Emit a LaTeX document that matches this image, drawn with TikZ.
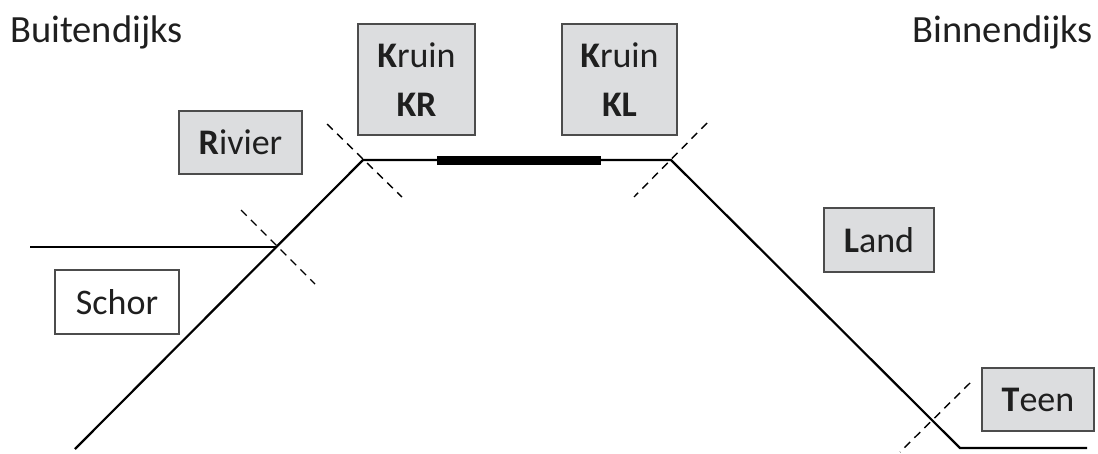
\documentclass[tikz,border=0pt]{standalone}
\usepackage{fontspec}
\setmainfont{Carlito}
\begin{document}
\begin{tikzpicture}[x=1pt,y=-1pt,
  lbl/.style={draw=black!70,line width=1.3pt,fill=boxgray,inner sep=0pt,align=center,text=black!88,font=\fontsize{36}{49}\selectfont},
  wlbl/.style={lbl,fill=white},
  side/.style={inner sep=0pt,text=black!88,font=\fontsize{38.5}{44}\selectfont},
  prof/.style={line width=2.2pt,line join=miter},
  cut/.style={line width=1.4pt,dash pattern=on 8pt off 6pt}]
\definecolor{boxgray}{HTML}{DCDDDF}
\useasboundingbox (0,0) rectangle (1098,453);
\node[side,anchor=base west] (bu) at (10,42.3) {Buitendijks};
\node[side,anchor=base east] (bi) at (1093,42.3) {Binnendijks};
\node[lbl,minimum width=117pt,minimum height=111pt] (kr) at (416.5,79.5) {\textbf{K}ruin\\\textbf{KR}};
\node[lbl,minimum width=115pt,minimum height=111pt] (kl) at (619.5,79.5) {\textbf{K}ruin\\\textbf{KL}};
\node[lbl,minimum width=123pt,minimum height=63pt] (ri) at (240.5,142.5) {\textbf{R}ivier};
\node[wlbl,minimum width=124pt,minimum height=64pt] (sc) at (117,302) {Schor};
\node[lbl,minimum width=110pt,minimum height=64pt] (la) at (879,240) {\textbf{L}and};
\node[lbl,minimum width=112pt,minimum height=63pt] (te) at (1038,399.5) {\textbf{T}een};
% profile
\coordinate (a) at (75,449);
\coordinate (b) at (363,160);
\coordinate (c) at (671,160);
\coordinate (d) at (960,448);
\coordinate (e) at (1087,448);
\coordinate (f) at (30,247);
\coordinate (g) at (277,247);
\draw[prof] (a) -- (b) -- (c) -- (d) -- (e);
\draw[prof] (f) -- (g);
\coordinate (t1) at (437,160);
\coordinate (t2) at (601,160);
\draw[line width=9pt] (t1) -- (t2);
% cut lines
\coordinate (k1) at (327,124); \coordinate (k2) at (402,197);
\coordinate (s1) at (241,210); \coordinate (s2) at (315,284);
\coordinate (l1) at (707,123); \coordinate (l2) at (634,197);
\coordinate (n1) at (970,383); \coordinate (n2) at (900,452);
\draw[cut] (k1) -- (k2);
\draw[cut] (s1) -- (s2);
\draw[cut] (l1) -- (l2);
\draw[cut] (n1) -- (n2);
\end{tikzpicture}
\end{document}
